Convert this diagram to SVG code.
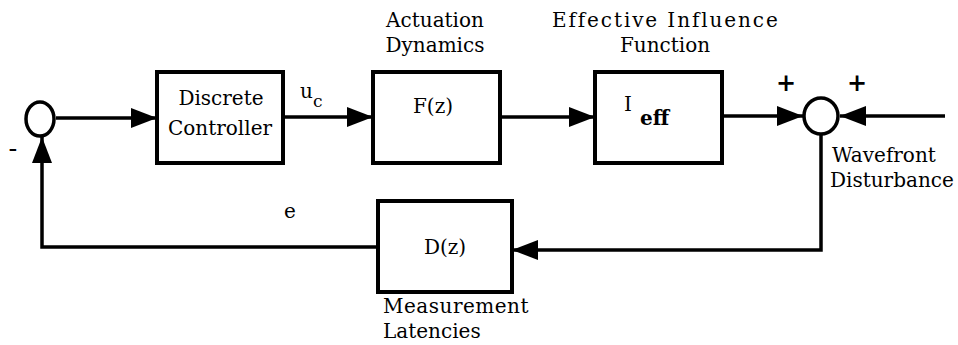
<svg xmlns="http://www.w3.org/2000/svg" width="958" height="345" viewBox="0 0 958 345">
<style>
.box{fill:#fff;stroke:#000;stroke-width:4}
.sum{fill:#fff;stroke:#000;stroke-width:3.5}
.ln{fill:none;stroke:#000;stroke-width:3.5}
.c{text-anchor:middle}
</style>
<defs>
<marker id="ah" viewBox="0 0 26 20" refX="26" refY="10" markerWidth="26" markerHeight="20" markerUnits="userSpaceOnUse" orient="auto">
<path d="M0,0 L26,10 L0,20 Z" fill="#000"/>
</marker>
</defs>
<g font-family="DejaVu Serif, Liberation Serif, serif" font-size="20" fill="#000">
<g id="connectors">
<line class="ln" x1="56" y1="118" x2="157" y2="118" marker-end="url(#ah)"/>
<line class="ln" x1="283" y1="117" x2="373" y2="117" marker-end="url(#ah)"/>
<line class="ln" x1="500" y1="117" x2="595" y2="117" marker-end="url(#ah)"/>
<line class="ln" x1="722" y1="116" x2="803" y2="116" marker-end="url(#ah)"/>
<line class="ln" x1="945" y1="116" x2="840" y2="116" marker-end="url(#ah)"/>
<polyline class="ln" points="821,134 821,250 512,250" marker-end="url(#ah)"/>
<polyline class="ln" points="378,247 42,247 42,137" marker-end="url(#ah)"/>
</g>
<g id="sum1">
<ellipse class="sum" cx="40" cy="119" rx="14" ry="17"/>
<text x="13" y="157" class="c" font-size="26">-</text>
</g>
<g id="controller">
<rect class="box" x="157" y="72" width="126" height="91"/>
<text x="221" y="105" class="c">Discrete</text>
<text x="220" y="135" class="c">Controller</text>
</g>
<g id="uc-label">
<text x="300" y="98">u<tspan font-size="17" dy="9">c</tspan></text>
</g>
<g id="actuation">
<rect class="box" x="373" y="72" width="127" height="91"/>
<text x="435" y="27" class="c">Actuation</text>
<text x="435" y="52" class="c">Dynamics</text>
<text x="433" y="113" class="c">F(z)</text>
</g>
<g id="influence">
<rect class="box" x="595" y="72" width="127" height="91"/>
<text x="552" y="27" letter-spacing="1.9">Effective Influence</text>
<text x="665" y="52" class="c">Function</text>
<text x="624" y="111">I<tspan x="640" y="125" font-weight="bold">eff</tspan></text>
</g>
<g id="sum2">
<ellipse class="sum" cx="821" cy="116" rx="17" ry="18"/>
<text x="786" y="91" class="c" font-size="24" font-weight="bold">+</text>
<text x="857" y="91" class="c" font-size="24" font-weight="bold">+</text>
<text x="832" y="162">Wavefront</text>
<text x="830" y="187">Disturbance</text>
</g>
<g id="measurement">
<rect class="box" x="378" y="201" width="134" height="91"/>
<text x="445" y="254" class="c">D(z)</text>
<text x="383" y="313" letter-spacing="0.5">Measurement</text>
<text x="383" y="338">Latencies</text>
</g>
<g id="e-label">
<text x="290" y="218" class="c">e</text>
</g>
</g>
</svg>
